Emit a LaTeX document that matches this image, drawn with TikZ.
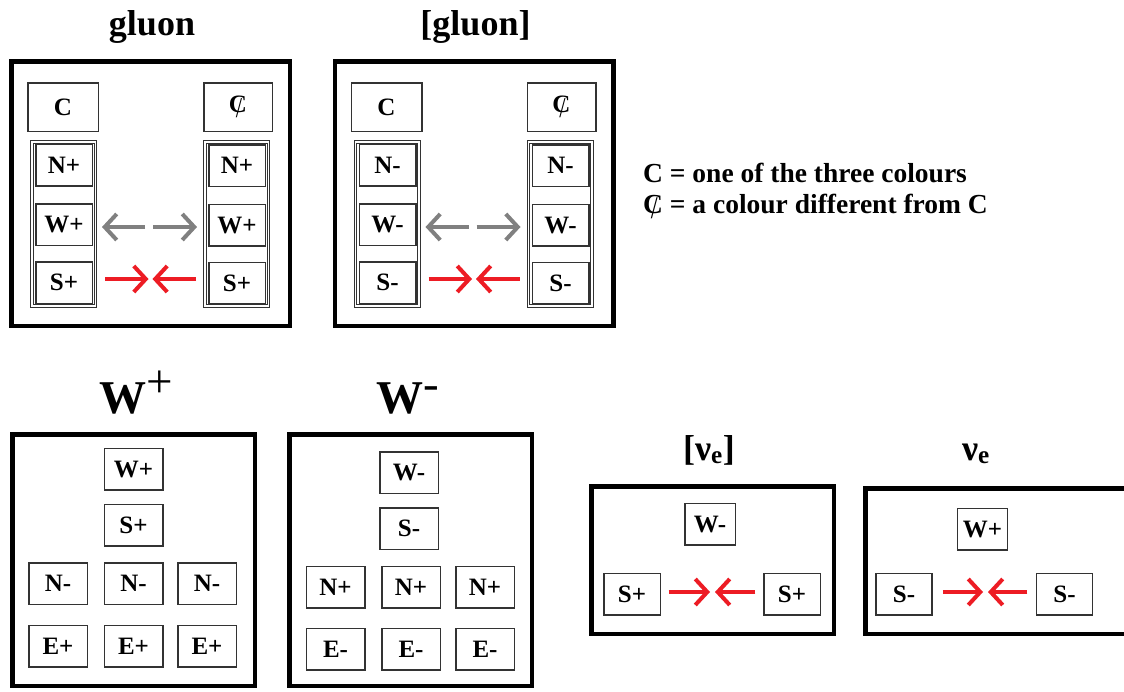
\documentclass[tikz,border=0pt]{standalone}
\usepackage{fontspec}
\setmainfont{Liberation Serif}
\usetikzlibrary{arrows.meta}
\definecolor{pred}{RGB}{237,28,36}
\definecolor{pgray}{RGB}{128,128,128}
\newcommand{\Cbar}{\ooalign{C\cr\hidewidth\kern0.08em\raisebox{-0.45ex}{\fontseries{m}\selectfont\scalebox{0.9}[1.15]{/}}\hidewidth\cr}}
\newcommand{\gluonpanel}[4]{%
\begin{scope}[xshift=#2]
 \node[title] (#1T) at (152,35) {#4};
 \node[outerbox, minimum width=278.5pt, minimum height=264.5pt] (#1box) at (150.5,193.5) {};
 \node[cell, minimum width=70.5pt, minimum height=48.5pt] (#1C) at (63,107) {C};
 \node[cell, minimum width=68.5pt, minimum height=48.5pt] (#1Cb) at (238,107) {\Cbar};
 \node[colbox] (#1colL) at (63.5,224) {};
 \node[colbox] (#1colR) at (236.5,224) {};
 \node[cell, colcell] (#1LN) at (64,165) {N#3};
 \node[cell, colcell] (#1LW) at (64,224.5) {W#3};
 \node[cell, colcell] (#1LS) at (64,282.5) {S#3};
 \node[cell, colcell] (#1RN) at (237,165.5) {N#3};
 \node[cell, colcell] (#1RW) at (237,225) {W#3};
 \node[cell, colcell] (#1RS) at (237,283) {S#3};
 \coordinate (#1gmid) at (149.5,227);
 \coordinate (#1rmid) at (150.5,279);
 \draw[grayarr, shorten <=4.5pt, shorten >=9pt] (#1gmid) -- (#1LW.east |- #1gmid);
 \draw[grayarr, shorten <=3.5pt, shorten >=11pt] (#1gmid) -- (#1RW.west |- #1gmid);
 \draw[redarr, shorten <=12pt, shorten >=2pt] (#1LS.east |- #1rmid) -- (#1rmid);
 \draw[redarr, shorten <=12pt, shorten >=2pt] (#1RS.west |- #1rmid) -- (#1rmid);
\end{scope}}
\begin{document}
\begin{tikzpicture}[x=1pt,y=-1pt,
 outerbox/.style={draw=black,line width=4.5pt,inner sep=0pt},
 cell/.style={draw=black!80,line width=1.5pt,fill=white,minimum width=58.5pt,minimum height=41.5pt,inner sep=0pt,font=\fontsize{25}{25}\selectfont\bfseries},
 colcell/.style={minimum width=56.5pt},
 colbox/.style={draw=black!80,double,double distance=1.5pt,line width=1pt,minimum width=63.5pt,minimum height=164pt,inner sep=0pt},
 title/.style={anchor=base,font=\fontsize{36}{36}\selectfont\bfseries,inner sep=0pt},
 bigtitle/.style={anchor=base,font=\fontsize{47}{47}\selectfont\bfseries,inner sep=0pt},
 nutitle/.style={anchor=base,font=\fontsize{36}{36}\selectfont\bfseries,inner sep=0pt},
 legend/.style={anchor=base west,font=\fontsize{27.5}{27.5}\selectfont\bfseries,inner sep=0pt},
 grayarr/.style={draw=pgray,line width=4pt,-{Straight Barb[length=12pt,width=26pt]}},
 redarr/.style={draw=pred,line width=4pt,-{Straight Barb[length=12pt,width=26pt]}}
]
\useasboundingbox (0,0) rectangle (1124,691);
\fill[white] (0,0) rectangle (1124,691);
\clip (0,0) rectangle (1124,691);

\gluonpanel{g}{0}{+}{gluon}
\gluonpanel{ag}{323.5}{-}{[gluon]}

\node[legend] (leg1) at (643,182) {C = one of the three colours};
\node[legend] (leg2) at (643,213) {\Cbar{} = a colour different from C};

% W+ panel
\node[bigtitle] (wpT) at (136,413) {W\raisebox{16pt}{\mdseries +}};
\node[outerbox, minimum width=242.5pt, minimum height=251.5pt] (wpbox) at (133.5,560) {};
\node[cell] (wpW) at (133.5,469) {W+};
\node[cell] (wpS) at (133.5,525) {S+};
\node[cell] (wpN1) at (58,583.5) {N-};
\node[cell] (wpN2) at (133.5,583.5) {N-};
\node[cell] (wpN3) at (207,583.5) {N-};
\node[cell] (wpE1) at (58,646) {E+};
\node[cell] (wpE2) at (133.5,646) {E+};
\node[cell] (wpE3) at (207,646) {E+};

% W- panel
\node[bigtitle] (wmT) at (407.5,413) {W\raisebox{14pt}{\mdseries -}};
\node[outerbox, minimum width=242.5pt, minimum height=251.5pt] (wmbox) at (410.5,560) {};
\node[cell] (wmW) at (409,472.5) {W-};
\node[cell] (wmS) at (409,528.5) {S-};
\node[cell] (wmN1) at (335.5,587) {N+};
\node[cell] (wmN2) at (411,587) {N+};
\node[cell] (wmN3) at (485,587) {N+};
\node[cell] (wmE1) at (335.5,649) {E-};
\node[cell] (wmE2) at (411,649) {E-};
\node[cell] (wmE3) at (485,649) {E-};

% anti nu_e panel
\node[nutitle] (anT) at (709,460) {[ν\textsubscript{e}]};
\node[outerbox, minimum width=242.5pt, minimum height=147.5pt] (anbox) at (712.5,560) {};
\node[cell, minimum width=50.5pt] (anW) at (710,524) {W-};
\node[cell, minimum width=56.5pt] (anSL) at (632,594) {S+};
\node[cell, minimum width=56.5pt] (anSR) at (792,594) {S+};
\coordinate (anmid) at (712.5,592);
\draw[redarr, shorten <=7.6pt, shorten >=2.5pt] (anSL.east |- anmid) -- (anmid);
\draw[redarr, shorten <=7.6pt, shorten >=2.5pt] (anSR.west |- anmid) -- (anmid);

% nu_e panel
\node[nutitle] (nT) at (976,460) {ν\textsubscript{e}};
\node[outerbox, minimum width=267.5pt, minimum height=145.5pt] (nbox) at (999,561) {};
\node[cell, minimum width=50pt] (nW) at (982.5,529) {W+};
\node[cell, minimum width=56pt] (nSL) at (904,594) {S-};
\node[cell, minimum width=56pt] (nSR) at (1064.5,594) {S-};
\coordinate (nmid) at (985.5,592);
\draw[redarr, shorten <=10pt, shorten >=2.5pt] (nSL.east |- nmid) -- (nmid);
\draw[redarr, shorten <=8.5pt, shorten >=2.5pt] (nSR.west |- nmid) -- (nmid);
\end{tikzpicture}
\end{document}
